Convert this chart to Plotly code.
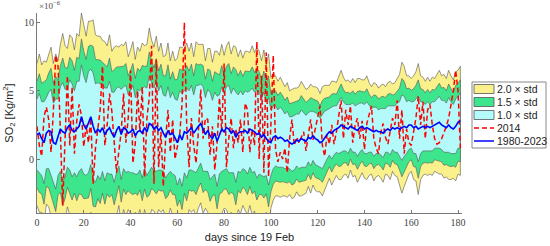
import numpy as np
import plotly.graph_objects as go

# SO2 column values in units of 1e-6 Kg/m2, one value per day since 19 Feb
days = list(range(0, 182))

mean_1980_2023 = [
    1.8, 1.9, 1.5, 1.2, 1.9, 2.1, 2.0, 1.2, 1.1, 1.6,
    2.2, 2.0, 1.9, 2.3, 2.5, 2.1, 2.0, 2.2, 2.4, 3.1,
    2.5, 2.2, 2.7, 3.1, 2.4, 1.9, 2.2, 2.0, 2.3, 1.8,
    2.1, 2.3, 1.9, 1.6, 2.1, 2.4, 1.8, 2.3, 2.2, 1.9,
    2.0, 2.2, 1.7, 2.0, 2.1, 1.9, 2.3, 2.0, 2.6, 2.5,
    2.2, 2.4, 2.1, 2.3, 1.9, 1.6, 2.1, 1.8, 1.9, 1.6,
    1.2, 1.8, 1.4, 2.0, 1.9, 2.1, 2.3, 1.9, 2.2, 2.4,
    2.6, 2.2, 1.8, 2.1, 1.7, 1.5, 1.9, 1.3, 1.8, 2.2,
    2.0, 2.3, 2.2, 1.9, 2.1, 1.6, 1.9, 2.0, 2.0, 2.1,
    1.9, 2.2, 2.1, 2.0, 1.8, 1.9, 1.6, 1.8, 1.5, 1.3,
    1.2, 1.6, 1.7, 1.5, 1.6, 1.5, 1.3, 1.4, 1.2, 1.1,
    1.2, 1.4, 1.3, 1.5, 1.4, 1.3, 1.6, 1.5, 1.7, 1.5,
    1.4, 1.2, 1.3, 1.6, 1.8, 2.0, 1.9, 2.1, 2.2, 2.3,
    2.5, 2.4, 2.3, 2.2, 2.4, 2.3, 2.2, 2.1, 2.3, 2.4,
    2.2, 2.3, 2.2, 2.1, 2.0, 2.1, 2.0, 2.0, 1.9, 2.1,
    2.2, 2.1, 2.3, 2.2, 2.3, 2.2, 2.3, 2.4, 2.3, 2.5,
    2.5, 2.3, 2.4, 2.2, 2.3, 2.4, 2.3, 2.4, 2.3, 2.4,
    2.5, 2.6, 2.7, 2.5, 2.4, 2.3, 2.5, 2.3, 2.2, 2.4,
    2.7, 2.8,
]

std_1980_2023 = [
    2.6, 2.9, 2.7, 3.0, 2.6, 2.8, 3.1, 2.9, 3.3, 2.8,
    3.1, 3.6, 3.2, 2.9, 3.3, 3.4, 3.0, 3.5, 3.3, 3.8,
    3.6, 3.4, 3.7, 3.5, 3.9, 3.6, 3.4, 3.5, 3.2, 3.4,
    3.1, 3.4, 3.0, 3.3, 3.1, 2.9, 3.3, 3.0, 3.2, 2.8,
    3.0, 3.2, 2.8, 3.1, 2.9, 3.3, 3.0, 3.2, 3.5, 3.1,
    3.0, 3.3, 2.9, 3.1, 2.8, 3.0, 3.2, 2.7, 3.0, 2.8,
    3.1, 3.2, 3.4, 3.0, 3.3, 2.9, 3.1, 2.8, 3.2, 3.0,
    2.9, 3.1, 2.7, 3.0, 3.2, 2.8, 3.0, 3.3, 2.9, 3.1,
    2.8, 3.0, 3.2, 2.9, 3.1, 3.3, 2.8, 3.0, 2.7, 2.9,
    3.0, 2.8, 3.1, 2.9, 3.2, 3.0, 2.8, 3.1, 2.7, 3.2,
    2.4, 2.3, 2.2, 2.1, 2.2, 2.1, 2.0, 2.1, 1.9, 2.0,
    2.0, 1.9, 2.0, 2.1, 2.0, 1.9, 1.8, 2.0, 1.8, 1.9,
    1.9, 1.8, 2.0, 1.9, 1.8, 1.7, 1.9, 1.8, 1.7, 1.9,
    2.0, 1.8, 1.7, 1.8, 1.6, 1.8, 1.7, 1.9, 1.8, 1.7,
    1.8, 1.9, 1.7, 1.6, 1.8, 1.7, 1.6, 1.7, 1.8, 1.6,
    1.7, 1.8, 1.6, 1.7, 1.8, 2.0, 2.4, 2.2, 1.9, 1.8,
    1.7, 1.9, 2.0, 2.4, 1.9, 1.8, 1.7, 1.8, 1.7, 1.8,
    1.7, 1.8, 1.9, 1.8, 1.9, 1.8, 2.0, 1.9, 1.8, 2.0,
    1.9, 2.0,
]

so2_2014 = [
    2.4, 1.0, 0.2, 3.1, 3.8, 2.9, 0.5, 3.5, 7.6, 6.8,
    2.0, -3.4, 1.5, 6.1, 1.0, 5.3, 0.4, 2.8, 4.0, 3.2,
    0.9, 2.5, 1.2, 3.0, -1.8, 0.8, 2.2, 3.6, 6.8, 1.0,
    2.5, 4.8, 3.5, 1.5, -1.0, 0.6, 2.0, 4.8, 1.2, 3.0,
    6.5, -0.3, 1.1, 5.0, 2.0, 5.3, -1.3, 3.0, 4.5, 8.3,
    -1.8, 7.3, -0.6, 2.0, -2.0, 1.5, 3.6, 0.5, 2.9, 0.0,
    1.0, 1.8, 4.0, 10.0, 2.5, -0.6, 3.0, 1.0, -0.3, 2.0,
    5.1, 1.5, 3.0, 2.9, 0.3, 2.4, -0.8, 1.2, 4.5, 2.0,
    7.0, -0.6, 1.5, 3.0, 0.8, 2.2, 1.2, 2.9, 0.5, 4.1,
    3.6, 0.5, 2.2, 1.0, 8.6, 0.0, 6.1, -1.0, 7.8, -1.3,
    2.5, 7.6, 0.7, -0.2, 0.5, 0.0, 0.8, -1.0, 1.5, 2.9,
    1.0, 1.6, 1.2, 1.6, 2.0, 0.6, 1.8, 2.9, 1.4, 2.2,
    3.0, 3.9, 1.0, 0.2, 1.8, 1.1, 2.5, 1.1, 2.0, 3.2,
    4.3, 1.5, 3.6, 2.5, 3.9, 1.2, 2.5, 3.0, 1.5, 2.8,
    0.7, 2.6, 3.2, 3.9, 1.5, 0.8, 0.4, 2.0, 2.6, 1.6,
    1.1, 2.0, 3.0, 2.5, 4.3, 1.5, 3.6, 0.4, 2.2, 1.2,
    1.0, 2.0, 3.0, 4.6, 2.5, 4.2, 1.5, 3.6, 4.0, 2.5,
    1.5, 1.1, 1.2, 1.5, 1.9, 2.4, 3.0, 4.0, 5.0, 6.5,
    5.0, 0.8,
]

band_factors = [2.0, 1.5, 1.0]
band_colors = ['#FAF08C', '#3DE68C', '#B4FAFA']
line_names = ['2014', '1980-2023']
line_colors = ['#FF0000', '#0000FF']

x = np.array(days)
m = np.array(mean_1980_2023)
s = np.array(std_1980_2023)

fig = go.Figure()

# std bands, widest first so narrower ones sit on top
for k, col in zip(band_factors, band_colors):
    upper = m + k * s
    lower = m - k * s
    fig.add_trace(go.Scatter(
        x=np.concatenate([x, x[::-1]]),
        y=np.concatenate([upper, lower[::-1]]),
        fill='toself',
        fillcolor=col,
        mode='lines',
        line=dict(color='#555555', width=0.6),
        name=f'{k:.1f} × std',
        hoverinfo='skip'
    ))

fig.add_trace(go.Scatter(
    x=days, y=so2_2014, mode='lines',
    line=dict(color=line_colors[0], width=1.5, dash='5px,3px'),
    name=line_names[0]
))

fig.add_trace(go.Scatter(
    x=days, y=mean_1980_2023, mode='lines',
    line=dict(color=line_colors[1], width=1.6),
    name=line_names[1]
))

tick_font = dict(family='Liberation Serif', size=10, color='#444444')

fig.update_xaxes(
    range=[0, 181.7], tickvals=list(range(0, 181, 20)), automargin=False,
    showgrid=False, zeroline=False, showline=True, linecolor='#777777', linewidth=1,
    ticks='inside', ticklen=3, tickcolor='#777777', tickfont=tick_font,
    title=dict(text='days since 19 Feb', font=dict(family='Liberation Sans', size=11, color='#222222'),
               standoff=6)
)
fig.update_yaxes(
    range=[-3.95, 10.7], tickvals=[0, 5, 10], automargin=False,
    showgrid=False, zeroline=False, showline=True, linecolor='#777777', linewidth=1,
    ticks='inside', ticklen=3, tickcolor='#777777', tickfont=tick_font,
    title=dict(text='SO<sub>2</sub> [Kg/m<sup>2</sup>]',
               font=dict(family='Liberation Sans', size=11, color='#222222'), standoff=8)
)

fig.add_annotation(
    text='×10<sup>−6</sup>', xref='paper', yref='paper', x=0.0, y=1.0,
    xanchor='left', yanchor='bottom', showarrow=False,
    font=dict(family='Liberation Serif', size=9, color='#444444')
)

# legend box drawn by hand (plotly's own legend rows are too tall here)
L, R, T, B = 37, 462, 13, 213


def px(xp):
    return (xp - L) / (R - L)


def py(yp):
    return (B - yp) / (B - T)


fig.add_shape(type='rect', xref='paper', yref='paper',
              x0=px(472), x1=px(546), y0=py(148), y1=py(82),
              line=dict(color='#888888', width=1), fillcolor='white', layer='above')

row_y = [89, 102, 115, 128, 141]
labels = [f'{k:.1f} × std' for k in band_factors] + line_names
for i, yy in enumerate(row_y):
    if i < 3:
        fig.add_shape(type='rect', xref='paper', yref='paper',
                      x0=px(474), x1=px(494), y0=py(yy + 4.5), y1=py(yy - 4.5),
                      line=dict(color='#555555', width=0.8), fillcolor=band_colors[i], layer='above')
    else:
        j = i - 3
        fig.add_shape(type='line', xref='paper', yref='paper',
                      x0=px(474), x1=px(494), y0=py(yy), y1=py(yy),
                      line=dict(color=line_colors[j], width=1.5,
                                dash='5px,3px' if j == 0 else 'solid'),
                      layer='above')
    fig.add_annotation(text=labels[i], xref='paper', yref='paper',
                       x=px(495), y=py(yy), xanchor='left', yanchor='middle',
                       showarrow=False,
                       font=dict(family='Liberation Sans', size=10.5, color='#222222'))

fig.update_layout(
    width=550, height=246,
    margin=dict(l=L, r=550 - R, t=T, b=246 - B),
    plot_bgcolor='white', paper_bgcolor='white',
    showlegend=False
)

fig.write_html('out.html', config={'displayModeBar': False},
               post_script="document.body.style.margin='0px';")
